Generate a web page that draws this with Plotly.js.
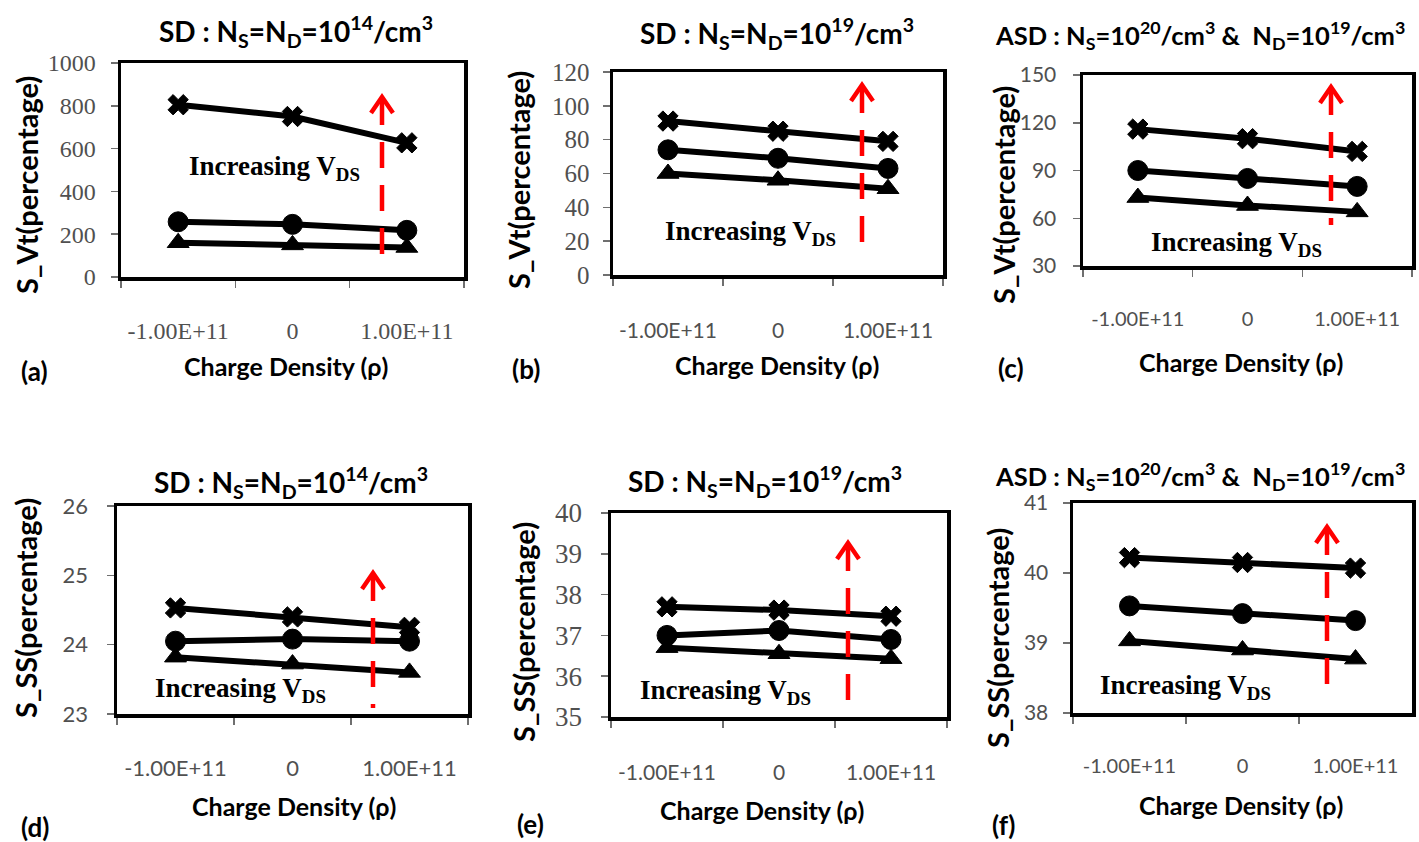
<!DOCTYPE html>
<html>
<head>
<meta charset="utf-8">
<script src="https://cdn.plot.ly/plotly-3.0.1.min.js"></script>
<style>html,body{margin:0;padding:0;background:#fff;}#chart{width:1419px;height:842px;}</style>
</head>
<body>
<div id="chart"></div>
<script>
// ---------- DATA ----------
const xCategories = ["-1.00E+11", "0", "1.00E+11"];

// (a) S_Vt, SD Ns=Nd=1e14
const aCross    = [805, 750, 627];
const aCircle   = [258, 246, 218];
const aTriangle = [160, 150, 138];
// (b) S_Vt, SD Ns=Nd=1e19
const bCross    = [91, 85, 79];
const bCircle   = [74, 69, 63];
const bTriangle = [60, 56, 51];
// (c) S_Vt, ASD
const cCross    = [116, 110, 102];
const cCircle   = [90, 85, 80];
const cTriangle = [73, 68, 64];
// (d) S_SS, SD Ns=Nd=1e14
const dCross    = [24.53, 24.40, 24.25];
const dCircle   = [24.05, 24.08, 24.05];
const dTriangle = [23.82, 23.72, 23.60];
// (e) S_SS, SD Ns=Nd=1e19
const eCross    = [37.70, 37.62, 37.47];
const eCircle   = [37.00, 37.12, 36.90];
const eTriangle = [36.70, 36.55, 36.43];
// (f) S_SS, ASD
const fCross    = [40.22, 40.15, 40.07];
const fCircle   = [39.53, 39.42, 39.32];
const fTriangle = [39.03, 38.90, 38.77];

const titleSD14 = "SD : N<sub>S</sub>=N<sub>D</sub>=10<sup>14</sup>/cm<sup>3</sup>";
const titleSD19 = "SD : N<sub>S</sub>=N<sub>D</sub>=10<sup>19</sup>/cm<sup>3</sup>";
const titleASD  = "ASD : N<sub>S</sub>=10<sup>20</sup>/cm<sup>3</sup> &amp;  N<sub>D</sub>=10<sup>19</sup>/cm<sup>3</sup>";
const yTitleVt = "S_Vt(percentage)";
const yTitleSS = "S_SS(percentage)";
const xTitle = "Charge Density (ρ)";
const noteText = "Increasing V<sub>DS</sub>";

// ---------- LAYOUT HELPERS ----------
const W = 1419, H = 842;
const px = v => v / W;
const py = v => 1 - v / H;
const SERIF = "Liberation Serif, Times New Roman, serif";
const SANS = "Lato, Open Sans, sans-serif";

const panels = [
  {id:1, cross:aCross, circle:aCircle, tri:aTriangle, box:[121,464,63,277], yr:[0,1000], dt:200,
   yfont:{family:SERIF, size:24}, xfont:{family:SERIF, size:24},
   title:titleSD14, tsize:28, tpos:[296,31], ytitle:yTitleVt, ytpos:[27,185], xtpos:[286,366], lab:"(a)", lpos:[34,371],
   note:[274,168], arrow:[382,97,262], ystand:10, xstand:30},
  {id:2, cross:bCross, circle:bCircle, tri:bTriangle, box:[613,943,72,275], yr:[0,120], dt:20,
   yfont:{family:SERIF, size:25}, xfont:{family:SANS, size:21},
   title:titleSD19, tsize:28, tpos:[777,33], ytitle:yTitleVt, ytpos:[518,180], xtpos:[777,365], lab:"(b)", lpos:[526,369],
   note:[750,233], arrow:[862,85,255], ystand:8, xstand:34},
  {id:3, cross:cCross, circle:cCircle, tri:cTriangle, box:[1083,1412,75,266], yr:[30,150], dt:30,
   yfont:{family:SANS, size:21}, xfont:{family:SANS, size:20},
   title:titleASD, tsize:25.5, tpos:[1200,35], ytitle:yTitleVt, ytpos:[1003,195], xtpos:[1241,362], lab:"(c)", lpos:[1011,368],
   note:[1236,244], arrow:[1331,87,225], ystand:12, xstand:32},
  {id:4, cross:dCross, circle:dCircle, tri:dTriangle, box:[117,468,506,714], yr:[23,26], dt:1,
   yfont:{family:SANS, size:22}, xfont:{family:SANS, size:22},
   title:titleSD14, tsize:28, tpos:[291,482], ytitle:yTitleSS, ytpos:[25,608], xtpos:[294,806], lab:"(d)", lpos:[35,827],
   note:[240,690], arrow:[373,573,708], ystand:14, xstand:32},
  {id:5, cross:eCross, circle:eCircle, tri:eTriangle, box:[611,947,513,717], yr:[35,40], dt:1,
   yfont:{family:SERIF, size:27}, xfont:{family:SANS, size:21},
   title:titleSD19, tsize:28, tpos:[765,481], ytitle:yTitleSS, ytpos:[523,632], xtpos:[762,810], lab:"(e)", lpos:[530,824],
   note:[725,692], arrow:[848,543,703], ystand:13, xstand:34},
  {id:6, cross:fCross, circle:fCircle, tri:fTriangle, box:[1073,1412,503,713], yr:[38,41], dt:1,
   yfont:{family:SANS, size:21}, xfont:{family:SANS, size:20},
   title:titleASD, tsize:25.5, tpos:[1200,476], ytitle:yTitleSS, ytpos:[997,638], xtpos:[1241,805], lab:"(f)", lpos:[1003,825],
   note:[1185,687], arrow:[1327,527,695], ystand:10, xstand:32}
];

const traces = [];
const layout = {
  width: W, height: H,
  margin: {l:0, r:0, t:0, b:0},
  paper_bgcolor: "#ffffff", plot_bgcolor: "#ffffff",
  showlegend: false,
  annotations: [], shapes: []
};

const lineStyle = {color:"#000000", width:6};
const tickGray = "#505050";

panels.forEach(p => {
  const xa = "x" + p.id, ya = "y" + p.id;
  const series = [
    {y:p.cross,  sym:"x",           size:18},
    {y:p.circle, sym:"circle",      size:20},
    {y:p.tri,    sym:"triangle-up", size:19}
  ];
  series.forEach(s => {
    traces.push({
      type:"scatter", mode:"lines+markers", x:xCategories, y:s.y,
      xaxis:xa, yaxis:ya, line:lineStyle,
      marker:{symbol:s.sym, size:s.size, color:"#000000", line:{color:"#000000", width:1}},
      hoverinfo:"skip"
    });
  });
  const [l, r, t, b] = p.box;
  const xKey = "xaxis" + (p.id === 1 ? "" : p.id);
  const yKey = "yaxis" + (p.id === 1 ? "" : p.id);
  layout[xKey] = {
    domain:[px(l), px(r)], anchor:ya, type:"category", range:[-0.5, 2.5],
    showline:true, mirror:true, linecolor:"#000000", linewidth:3.5,
    showgrid:false, zeroline:false,
    ticks:"outside", tickson:"boundaries", ticklen:7, tickwidth:1.5, tickcolor:"#6f6f6f",
    tickfont:Object.assign({color:tickGray}, p.xfont), ticklabelstandoff:p.xstand,
    fixedrange:true
  };
  layout[yKey] = {
    domain:[py(b), py(t)], anchor:xa, range:p.yr, dtick:p.dt, tick0:p.yr[0],
    showline:true, mirror:true, linecolor:"#000000", linewidth:3.5,
    showgrid:false, zeroline:false,
    ticks:"outside", ticklen:7, tickwidth:1.5, tickcolor:"#6f6f6f",
    tickfont:Object.assign({color:tickGray}, p.yfont), ticklabelstandoff:p.ystand,
    fixedrange:true
  };

  const ann = layout.annotations;
  ann.push({text:p.title, xref:"paper", yref:"paper", x:px(p.tpos[0]), y:py(p.tpos[1]),
    xanchor:"center", yanchor:"middle", showarrow:false,
    font:{family:SANS, size:p.tsize, weight:"bold", color:"#000000"}});
  ann.push({text:p.ytitle, xref:"paper", yref:"paper", x:px(p.ytpos[0]), y:py(p.ytpos[1]),
    xanchor:"center", yanchor:"middle", showarrow:false, textangle:-90,
    font:{family:SANS, size:29, weight:"bold", color:"#000000"}});
  ann.push({text:xTitle, xref:"paper", yref:"paper", x:px(p.xtpos[0]), y:py(p.xtpos[1]),
    xanchor:"center", yanchor:"middle", showarrow:false,
    font:{family:SANS, size:25, weight:"bold", color:"#000000"}});
  ann.push({text:p.lab, xref:"paper", yref:"paper", x:px(p.lpos[0]), y:py(p.lpos[1]),
    xanchor:"center", yanchor:"middle", showarrow:false,
    font:{family:SANS, size:26, weight:"bold", color:"#000000"}});
  ann.push({text:noteText, xref:"paper", yref:"paper", x:px(p.note[0]), y:py(p.note[1]),
    xanchor:"center", yanchor:"middle", showarrow:false,
    font:{family:SERIF, size:27, weight:"bold", color:"#000000"}});

  const [ax, atop, abot] = p.arrow;
  layout.shapes.push({type:"line", xref:"paper", yref:"paper",
    x0:px(ax), x1:px(ax), y0:py(atop+2), y1:py(abot),
    line:{color:"#ff0000", width:4.5, dash:"26px,17px"}});
  layout.shapes.push({type:"path", xref:"paper", yref:"paper",
    path:"M " + px(ax-11) + "," + py(atop+16) + " L " + px(ax) + "," + py(atop) + " L " + px(ax+11) + "," + py(atop+16),
    line:{color:"#ff0000", width:4.5}, fillcolor:"rgba(0,0,0,0)"});
});

Plotly.newPlot("chart", traces, layout, {staticPlot:true, displayModeBar:false});
</script>
</body>
</html>
